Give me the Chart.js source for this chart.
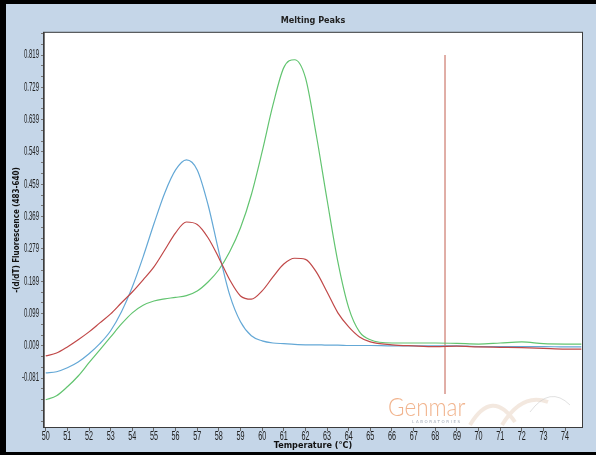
<!DOCTYPE html>
<html>
<head>
<meta charset="utf-8">
<script src="https://cdn.jsdelivr.net/npm/chart.js@4/dist/chart.umd.min.js"></script>
<style>
  html, body { margin: 0; padding: 0; background: #000; }
  #wrap { width: 596px; height: 455px; }
</style>
</head>
<body>
<div id="wrap"><canvas id="graph" width="596" height="455"></canvas></div>
<script>
const temps = [50, 50.5, 51, 51.5, 52, 52.5, 53, 53.5, 54, 54.5, 55, 55.5, 56, 56.5, 57, 57.5, 58, 58.5, 59, 59.5,
  60, 60.5, 61, 61.5, 62, 62.5, 63, 63.5, 64, 64.5, 65, 66, 67, 68, 69, 70, 71, 72, 73, 74, 74.75];

const redPeak = [-0.019, -0.011, 0.006, 0.026, 0.048, 0.073, 0.098, 0.129, 0.159, 0.193, 0.229, 0.276, 0.324, 0.354, 0.347, 0.310, 0.254, 0.193, 0.148, 0.139,
  0.162, 0.201, 0.237, 0.253, 0.250, 0.215, 0.159, 0.101, 0.062, 0.034, 0.020, 0.012, 0.009, 0.007, 0.008, 0.006, 0.005, 0.004, 0.002, 0.000, 0.000];

const bluePeak = [-0.066, -0.063, -0.052, -0.036, -0.013, 0.015, 0.051, 0.104, 0.173, 0.257, 0.349, 0.435, 0.499, 0.527, 0.499, 0.402, 0.271, 0.151, 0.076, 0.037,
  0.023, 0.017, 0.015, 0.013, 0.012, 0.012, 0.011, 0.011, 0.010, 0.010, 0.010, 0.009, 0.009, 0.009, 0.009, 0.007, 0.007, 0.007, 0.007, 0.006, 0.006];

const greenPeak = [-0.141, -0.130, -0.105, -0.075, -0.038, -0.002, 0.034, 0.070, 0.101, 0.122, 0.134, 0.140, 0.144, 0.149, 0.162, 0.187, 0.221, 0.271, 0.338, 0.430,
  0.550, 0.680, 0.784, 0.806, 0.756, 0.597, 0.416, 0.243, 0.115, 0.048, 0.026, 0.017, 0.017, 0.017, 0.016, 0.014, 0.017, 0.020, 0.015, 0.014, 0.014];

const yTicks = [-0.081, 0.009, 0.099, 0.189, 0.279, 0.369, 0.459, 0.549, 0.639, 0.729, 0.819];
const xTicks = [50, 51, 52, 53, 54, 55, 56, 57, 58, 59, 60, 61, 62, 63, 64, 65, 66, 67, 68, 69, 70, 71, 72, 73, 74];

// cursor line
const cursorTemp = 68.45;
const cursorRange = [0.819, -0.125];

const narrow = "'Liberation Sans Narrow', 'DejaVu Sans Condensed', 'Arial Narrow', sans-serif";

// minor ticks every third of a major step
let yMinor = [];
for (let v = -0.201; v < 0.88; v += 0.03) yMinor.push(Math.round(v * 1000) / 1000);

function pts(vals) {
  return temps.map((t, i) => ({ x: t, y: vals[i] }));
}

// squeezed text, the original uses a very narrow font
function squeezed(ctx, txt, x, y, align, sx) {
  ctx.save();
  ctx.translate(x, y);
  ctx.scale(sx, 1);
  ctx.textAlign = align;
  ctx.fillText(txt, 0, 0);
  ctx.restore();
}

const frame = {
  id: 'frame',
  beforeDraw(chart) {
    const ctx = chart.ctx;
    const a = chart.chartArea;
    ctx.save();
    ctx.fillStyle = '#c5d6e8';
    ctx.fillRect(0, 0, chart.width, chart.height);
    ctx.fillStyle = '#000';
    ctx.fillRect(0, 0, 6, chart.height);
    ctx.fillRect(0, 0, chart.width, 4);
    ctx.fillRect(0, chart.height - 3, chart.width, 3);
    ctx.fillStyle = '#fff';
    ctx.fillRect(a.left, a.top, a.right - a.left, a.bottom - a.top);
    ctx.restore();
  },
  beforeDatasetsDraw(chart) {
    // watermark logo
    const ctx = chart.ctx;
    ctx.save();
    ctx.strokeStyle = 'rgba(238,222,210,0.7)';
    ctx.lineWidth = 4;
    ctx.beginPath();
    ctx.moveTo(470, 425);
    ctx.quadraticCurveTo(492, 388, 515, 422);
    ctx.moveTo(502, 425);
    ctx.quadraticCurveTo(522, 392, 548, 402);
    ctx.stroke();
    ctx.lineWidth = 1;
    ctx.strokeStyle = 'rgba(205,205,205,0.6)';
    ctx.beginPath();
    ctx.moveTo(530, 412);
    ctx.quadraticCurveTo(550, 385, 570, 405);
    ctx.stroke();
    ctx.fillStyle = 'rgba(238,160,112,0.8)';
    ctx.font = "300 25px Lato, 'Open Sans', sans-serif";
    ctx.textBaseline = 'alphabetic';
    ctx.save();
    ctx.translate(388, 416);
    ctx.scale(0.9, 1);
    ctx.fillText('Genmar', 0, 0);
    ctx.restore();
    ctx.font = "4px 'DejaVu Sans', sans-serif";
    ctx.letterSpacing = '1.6px';
    ctx.fillStyle = 'rgba(150,160,175,0.9)';
    ctx.fillText('LABORATORIES', 412, 423);
    ctx.restore();
  },
  afterDraw(chart) {
    const ctx = chart.ctx;
    const a = chart.chartArea;
    const xs = chart.scales.x, ys = chart.scales.y;
    ctx.save();
    ctx.strokeStyle = '#3c3c3c';
    ctx.lineWidth = 1;
    ctx.strokeRect(a.left - 0.5, a.top - 0.5, a.right - a.left + 1, a.bottom - a.top + 1);
    ctx.fillStyle = '#222';
    ctx.font = "12px 'Liberation Sans', Arial, sans-serif";
    ctx.textBaseline = 'middle';
    yTicks.forEach(v => squeezed(ctx, v.toFixed(3), ys.right - 5, ys.getPixelForValue(v), 'right', 0.5));
    xTicks.forEach(v => squeezed(ctx, String(v), xs.getPixelForValue(v), a.bottom + 10, 'center', 0.6));
    ctx.restore();
  }
};

new Chart(document.getElementById('graph'), {
  type: 'line',
  data: {
    datasets: [
      { data: pts(redPeak), borderColor: 'rgb(192,72,72)' },
      { data: pts(bluePeak), borderColor: 'rgb(100,168,214)' },
      { data: pts(greenPeak), borderColor: 'rgb(98,196,112)' },
      {
        data: cursorRange.map(v => ({ x: cursorTemp, y: v })),
        borderColor: 'rgb(205,120,108)', cubicInterpolationMode: 'default', tension: 0
      }
    ]
  },
  options: {
    responsive: false,
    animation: false,
    devicePixelRatio: 1,
    layout: { padding: { left: 6, top: 4, right: 14, bottom: 0 } },
    elements: {
      point: { radius: 0 },
      line: { borderWidth: 1.2, cubicInterpolationMode: 'monotone' }
    },
    plugins: {
      legend: { display: false },
      tooltip: { enabled: false },
      title: {
        display: true,
        text: 'Melting Peaks',
        fullSize: false,
        color: '#222',
        font: { family: narrow, size: 9, weight: 'bold' },
        padding: { top: 11, bottom: 7 }
      }
    },
    scales: {
      x: {
        type: 'linear',
        min: 49.92,
        max: 74.78,
        afterBuildTicks: s => { s.ticks = xTicks.map(v => ({ value: v })); },
        afterFit: s => { s.height = 28; },
        grid: { drawOnChartArea: false, tickLength: 4, color: '#666' },
        border: { color: '#3c3c3c' },
        ticks: { display: false },
        title: {
          display: true,
          text: 'Temperature (°C)',
          color: '#111',
          font: { family: narrow, size: 9, weight: 'bold' },
          padding: { top: 0, bottom: 4 }
        }
      },
      y: {
        min: -0.217,
        max: 0.881,
        afterBuildTicks: s => { s.ticks = yMinor.map(v => ({ value: v })); },
        afterFit: s => { s.width = 38; },
        grid: { drawOnChartArea: false, tickLength: 3, color: '#777' },
        border: { color: '#777' },
        ticks: { display: false },
        title: {
          display: true,
          text: '-(d/dT) Fluorescence (483-640)',
          color: '#111',
          font: { family: narrow, size: 8, weight: 'bold' },
          padding: { top: 6, bottom: 0 }
        }
      }
    }
  },
  plugins: [frame]
});
</script>
</body>
</html>
